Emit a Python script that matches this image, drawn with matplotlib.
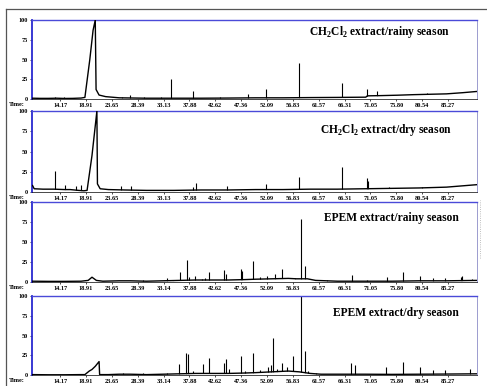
import numpy as np
import matplotlib
matplotlib.use('Agg')
import matplotlib.pyplot as plt
from matplotlib.lines import Line2D

plt.rcParams['font.family'] = 'Liberation Serif'
plt.rcParams['mathtext.fontset'] = 'custom'
plt.rcParams['mathtext.rm'] = 'Liberation Serif:bold'
plt.rcParams['mathtext.bf'] = 'Liberation Serif:bold'

# retention time tick labels (min)
ticks_top = [14.17, 18.91, 23.65, 28.39, 33.13, 37.88, 42.62, 47.36,
             52.09, 56.83, 61.57, 66.31, 71.05, 75.80, 80.54, 85.27]
ticks_bot = [14.17, 18.91, 23.65, 28.39, 33.14, 37.88, 42.62, 47.36,
             52.09, 56.83, 61.57, 66.31, 71.05, 75.80, 80.54, 85.27]
y_ticks = [0, 25, 50, 75, 100]

titles = [r'CH$_\mathbf{2}$Cl$_\mathbf{2}$ extract/rainy season',
          r'CH$_\mathbf{2}$Cl$_\mathbf{2}$ extract/dry season',
          'EPEM extract/rainy season',
          'EPEM extract/dry season']

# --- CH2Cl2 rainy ---
p1_base_t = [9.1, 10.5, 12, 13.5, 15, 16.5, 18.0, 18.7, 19.6, 20.2, 20.6, 20.75, 21.3, 22.5,
             25, 30, 35, 40, 45, 50, 55, 60, 65, 70.2, 70.5, 73, 76, 79, 82, 85, 88, 90.5]
p1_base_y = [1, 0.8, 0.8, 1, 0.7, 0.8, 1.2, 2, 50, 87, 100, 12, 5, 3,
             1.5, 1, 1, 1, 1.2, 1.5, 1.5, 1.8, 2, 2.3, 4, 4.3, 4.8, 5.5, 6, 6.5, 8, 9.5]
p1_peak_t = [13.3, 14.9, 25.5, 27.0, 29.5, 32.7, 34.5, 38.5, 43.4, 48.6, 52.0, 57.9,
             65.8, 70.4, 72.2, 81.4]
p1_peak_h = [3, 3, 3, 5, 3, 3, 25, 10, 3, 6, 13, 46, 20, 13, 10, 8]

# --- CH2Cl2 dry ---
p2_base_t = [9.1, 9.4, 11, 13, 15, 16, 17.5, 18.5, 19.1, 20.0, 20.9, 21.0, 21.5, 23,
             26, 30, 35, 40, 45, 50, 55, 60, 65, 70, 75, 80, 85, 90.5]
p2_base_y = [8, 4, 3.5, 3.5, 3, 3, 2, 1.5, 2, 45, 100, 10, 4, 3,
             2.5, 2, 2, 2.5, 2.5, 3, 3, 3.5, 3.5, 4, 4.5, 5, 6, 9]
p2_peak_t = [13.3, 15.1, 17.1, 18.0, 25.3, 27.2, 38.5, 39.1, 44.7, 52.0, 57.9, 65.8,
             70.4, 70.7, 74.5, 80.5]
p2_peak_h = [26, 9, 8, 9, 8, 7, 6, 11, 8, 10, 18, 31, 17, 14, 6, 6]

# --- EPEM rainy ---
p3_base_t = [9.1, 12, 15, 18, 19.3, 20.0, 20.8, 22, 25, 27, 30, 33, 36, 39, 42, 45, 48,
             50, 53, 56, 57.5, 59.5, 61, 65, 70, 75, 80, 85, 90.5]
p3_base_y = [1, 0.8, 0.8, 1, 2, 6, 2, 1, 1.5, 1.5, 1, 1.5, 2, 2.5, 2.5, 2.5, 3,
             3.5, 4, 4.5, 4, 4, 2, 1, 1, 1, 1.5, 1.5, 2]
p3_peak_t = [29.4, 33.7, 34.9, 36.1, 37.4, 37.8, 38.9, 40.1, 40.7, 41.5, 44.2, 44.6,
             47.3, 47.5, 48.6, 49.5, 50.8, 52.1, 53.5, 54.8, 56.3, 57.2, 58.3, 59.0,
             63.1, 67.7, 70.4, 74.1, 77.0, 80.1, 82.5, 84.7, 87.6, 87.9, 89.6]
p3_peak_h = [2.5, 5, 3, 12, 28, 6, 7, 4, 5, 12, 15, 10,
             16, 14, 4, 26, 6, 7, 10, 16, 5, 5, 79, 20,
             2.5, 9, 3, 6, 12, 7, 5, 5, 6, 7, 4]

# --- EPEM dry ---
p4_base_t = [9.1, 12, 15, 18, 18.7, 19.5, 20.0, 20.6, 21.3, 21.4, 23, 25, 27, 30, 33, 36,
             39, 42, 45, 48, 50, 53, 56, 58, 60, 62, 65, 70, 75, 80, 85, 90.5]
p4_base_y = [0.5, 0.3, 0.3, 0.5, 0.5, 5, 7, 11, 17, 0.5, 0.5, 1, 1, 0.5, 1, 1.5,
             2, 2, 2, 2.5, 3, 4, 5, 4, 2, 1, 1, 1, 0.8, 1, 1.2, 1.5]
p4_peak_t = [25.7, 29.4, 33.7, 35.9, 37.2, 37.6, 38.5, 40.4, 41.5, 44.2, 44.6, 45.1,
             47.3, 48.0, 49.5, 50.8, 52.3, 52.8, 53.2, 53.9, 54.8, 55.7, 56.8, 58.3,
             59.0, 59.6, 61.0, 67.5, 68.2, 73.9, 77.0, 80.1, 82.5, 84.7, 89.3]
p4_peak_h = [2, 2, 3, 14, 28, 26, 5, 14, 21, 15, 20, 8,
             24, 5, 28, 6, 10, 13, 47, 8, 15, 10, 24, 100,
             30, 5, 3, 15, 13, 10, 16, 10, 6, 6, 8]

panels = [
    (p1_base_t, p1_base_y, p1_peak_t, p1_peak_h, ticks_top, (0.94, 0.85)),
    (p2_base_t, p2_base_y, p2_peak_t, p2_peak_h, ticks_top, (0.945, 0.77)),
    (p3_base_t, p3_base_y, p3_peak_t, p3_peak_h, ticks_bot, (0.96, 0.80)),
    (p4_base_t, p4_base_y, p4_peak_t, p4_peak_h, ticks_bot, (0.96, 0.78)),
]
# axes boxes in pixels: (top, bottom)
boxes = [(20, 99), (111, 192), (202, 282), (296, 375)]

W, H = 487, 386
fig = plt.figure(figsize=(W / 100, H / 100), dpi=100)

for (bt, by, pt, ph, xt, tpos), (top, bot), title in zip(panels, boxes, titles):
    ax = fig.add_axes([32 / W, 1 - bot / H, 445 / W, (bot - top) / H])
    ax.vlines(pt, 0, ph, color='black', lw=0.8, zorder=1)
    ax.fill_between(bt, 0, by, color='white', lw=0, zorder=2)
    ax.plot(bt, by, color='black', lw=1.0, zorder=3)
    ax.set_xlim(9.0, 90.6)
    ax.set_ylim(0, 100)
    ax.set_xticks(xt)
    ax.set_xticklabels(['%.2f' % v for v in xt])
    ax.set_yticks(y_ticks)
    ax.tick_params(axis='both', labelsize=4.5, length=1.5, width=0.5, pad=1.5)
    for lab in ax.get_xticklabels() + ax.get_yticklabels():
        lab.set_fontweight('bold')
    ax.spines['left'].set_color('#2a2ad0')
    ax.spines['left'].set_linewidth(1.3)
    ax.spines['top'].set_color('#4a4ad8')
    ax.spines['top'].set_linewidth(1.0)
    ax.spines['right'].set_color('#8c8cc8')
    ax.spines['right'].set_linewidth(0.6)
    ax.spines['bottom'].set_color('black')
    ax.spines['bottom'].set_linewidth(0.5)
    ax.text(-0.035, -0.04, 'Time:', transform=ax.transAxes, ha='center', va='top',
            fontsize=4.5, fontweight='bold')
    ax.text(tpos[0], tpos[1], title, transform=ax.transAxes, ha='right', va='center',
            fontsize=8.3, fontweight='bold')

# outer frame of the scanned figure
fig.add_artist(Line2D([6 / W, 6 / W], [0, 1 - 9 / H], color='#555555', lw=0.9))
fig.add_artist(Line2D([6 / W, 1], [1 - 9 / H, 1 - 9 / H], color='#555555', lw=0.9))
# faint scan mark right of the third panel
fig.add_artist(Line2D([480 / W, 480 / W], [1 - 258 / H, 1 - 200 / H], color='#aaaaaa',
                      lw=0.6, ls=':'))

fig.savefig('out.png', dpi=100, facecolor='white')
